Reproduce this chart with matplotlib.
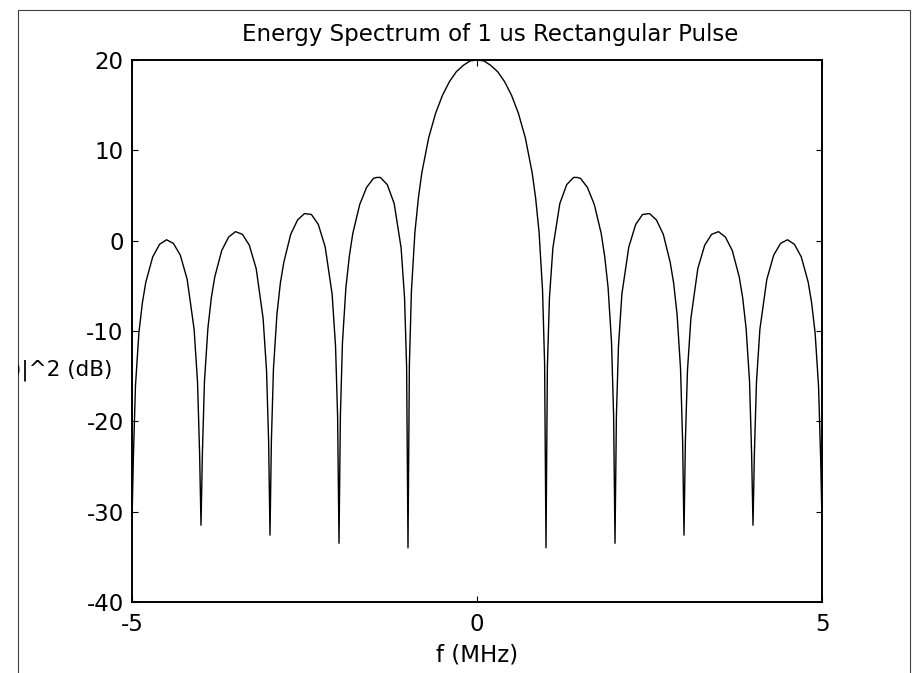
import matplotlib
matplotlib.use("Agg")
import matplotlib.pyplot as plt
from matplotlib.patches import Rectangle
from matplotlib.transforms import Bbox, TransformedBbox

plt.rcParams['font.family'] = ['DejaVu Sans']
plt.rcParams['axes.unicode_minus'] = False

# ======================
# Data, f in MHz, level in dB
# ======================
freq = [
    -5.0, -4.98, -4.95, -4.9, -4.85, -4.8, -4.7, -4.6, -4.5, -4.4, -4.3, -4.2, -4.1, -4.05, -4.02,
    -4.0, -3.98, -3.95, -3.9, -3.85, -3.8, -3.7, -3.6, -3.5, -3.4, -3.3, -3.2, -3.1, -3.05, -3.02,
    -3.0, -2.98, -2.95, -2.9, -2.85, -2.8, -2.7, -2.6, -2.5, -2.4, -2.3, -2.2, -2.1, -2.05, -2.02,
    -2.0, -1.98, -1.95, -1.9, -1.85, -1.8, -1.7, -1.6, -1.5, -1.45, -1.4, -1.3, -1.2, -1.1, -1.05, -1.02,
    -1.0, -0.98, -0.95, -0.9, -0.85, -0.8, -0.7, -0.6, -0.5, -0.4, -0.3, -0.2, -0.1,
    0.0,
    0.1, 0.2, 0.3, 0.4, 0.5, 0.6, 0.7, 0.8, 0.85, 0.9, 0.95, 0.98,
    1.0, 1.02, 1.05, 1.1, 1.2, 1.3, 1.4, 1.45, 1.5, 1.6, 1.7, 1.8, 1.85, 1.9, 1.95, 1.98,
    2.0, 2.02, 2.05, 2.1, 2.2, 2.3, 2.4, 2.5, 2.6, 2.7, 2.8, 2.85, 2.9, 2.95, 2.98,
    3.0, 3.02, 3.05, 3.1, 3.2, 3.3, 3.4, 3.5, 3.6, 3.7, 3.8, 3.85, 3.9, 3.95, 3.98,
    4.0, 4.02, 4.05, 4.1, 4.2, 4.3, 4.4, 4.5, 4.6, 4.7, 4.8, 4.85, 4.9, 4.95, 4.98,
    5.0,
]
level_db = [
    -31.0, -24.0, -16.1, -10.2, -6.9, -4.6, -1.8, -0.4, 0.1, -0.3, -1.6, -4.3, -9.8, -15.7, -23.6,
    -31.5, -23.6, -15.6, -9.7, -6.3, -4.0, -1.1, 0.4, 1.0, 0.7, -0.5, -3.1, -8.6, -14.4, -22.2,
    -32.6, -22.2, -14.2, -8.2, -4.7, -2.4, 0.7, 2.3, 3.0, 2.9, 1.8, -0.7, -5.9, -11.7, -19.5,
    -33.5, -19.4, -11.3, -5.2, -1.7, 0.8, 4.0, 5.9, 6.9, 7.0, 7.0, 6.2, 4.1, -0.8, -6.3, -14.0,
    -34.0, -13.7, -5.5, 0.9, 4.7, 7.5, 11.4, 14.1, 16.1, 17.6, 18.7, 19.4, 19.9,
    20.0,
    19.9, 19.4, 18.7, 17.6, 16.1, 14.1, 11.4, 7.5, 4.7, 0.9, -5.5, -13.7,
    -34.0, -14.0, -6.3, -0.8, 4.1, 6.2, 7.0, 7.0, 6.9, 5.9, 4.0, 0.8, -1.7, -5.2, -11.3, -19.4,
    -33.5, -19.5, -11.7, -5.9, -0.7, 1.8, 2.9, 3.0, 2.3, 0.7, -2.4, -4.7, -8.2, -14.2, -22.2,
    -32.6, -22.2, -14.4, -8.6, -3.1, -0.5, 0.7, 1.0, 0.4, -1.1, -4.0, -6.3, -9.7, -15.6, -23.6,
    -31.5, -23.6, -15.7, -9.8, -4.3, -1.6, -0.3, 0.1, -0.4, -1.8, -4.6, -6.9, -10.2, -16.1, -24.0,
    -31.0,
]
x_ticks = [-5, 0, 5]
y_ticks = [-40, -30, -20, -10, 0, 10, 20]

FS = 16.5

# ======================
# Figure
# ======================
W, H = 913, 673
fig = plt.figure(figsize=(W / 100, H / 100), dpi=100)
ax = fig.add_axes([132 / W, 1 - 602 / H, 690 / W, 542 / H])

ax.plot(freq, level_db, color='black', linewidth=1.0)

ax.set_xlim(-5, 5)
ax.set_ylim(-40, 20)
ax.set_xticks(x_ticks)
ax.set_yticks(y_ticks)
ax.tick_params(direction='in', length=4.5, width=0.8, labelsize=FS,
               top=True, right=True)
ax.tick_params(axis='y', pad=6)
ax.tick_params(axis='x', pad=8)
for sp in ax.spines.values():
    sp.set_linewidth(1.4)

ax.set_xlabel('f (MHz)', fontsize=FS, labelpad=5)

fig.text(490 / W, 1 - 35 / H, 'Energy Spectrum of 1 us Rectangular Pulse',
         ha='center', va='center', fontsize=FS)

# figure frame (window border); the y label runs past it and is cut off,
# as in the original screenshot
border = Rectangle((17.5 / W, -0.05), (910 - 17.5) / W, 1.05 - 10 / H,
                   transform=fig.transFigure, fill=False,
                   edgecolor='#404040', linewidth=0.8)
fig.patches.append(border)

ylab = fig.text(112 / W, 1 - 370 / H, '|X(f)|^2 (dB)',
                ha='right', va='center', fontsize=15.5)
ylab.set_clip_box(TransformedBbox(Bbox.from_extents(18 / W, 0, 1, 1),
                                  fig.transFigure))

fig.savefig('out.png', dpi=100)
